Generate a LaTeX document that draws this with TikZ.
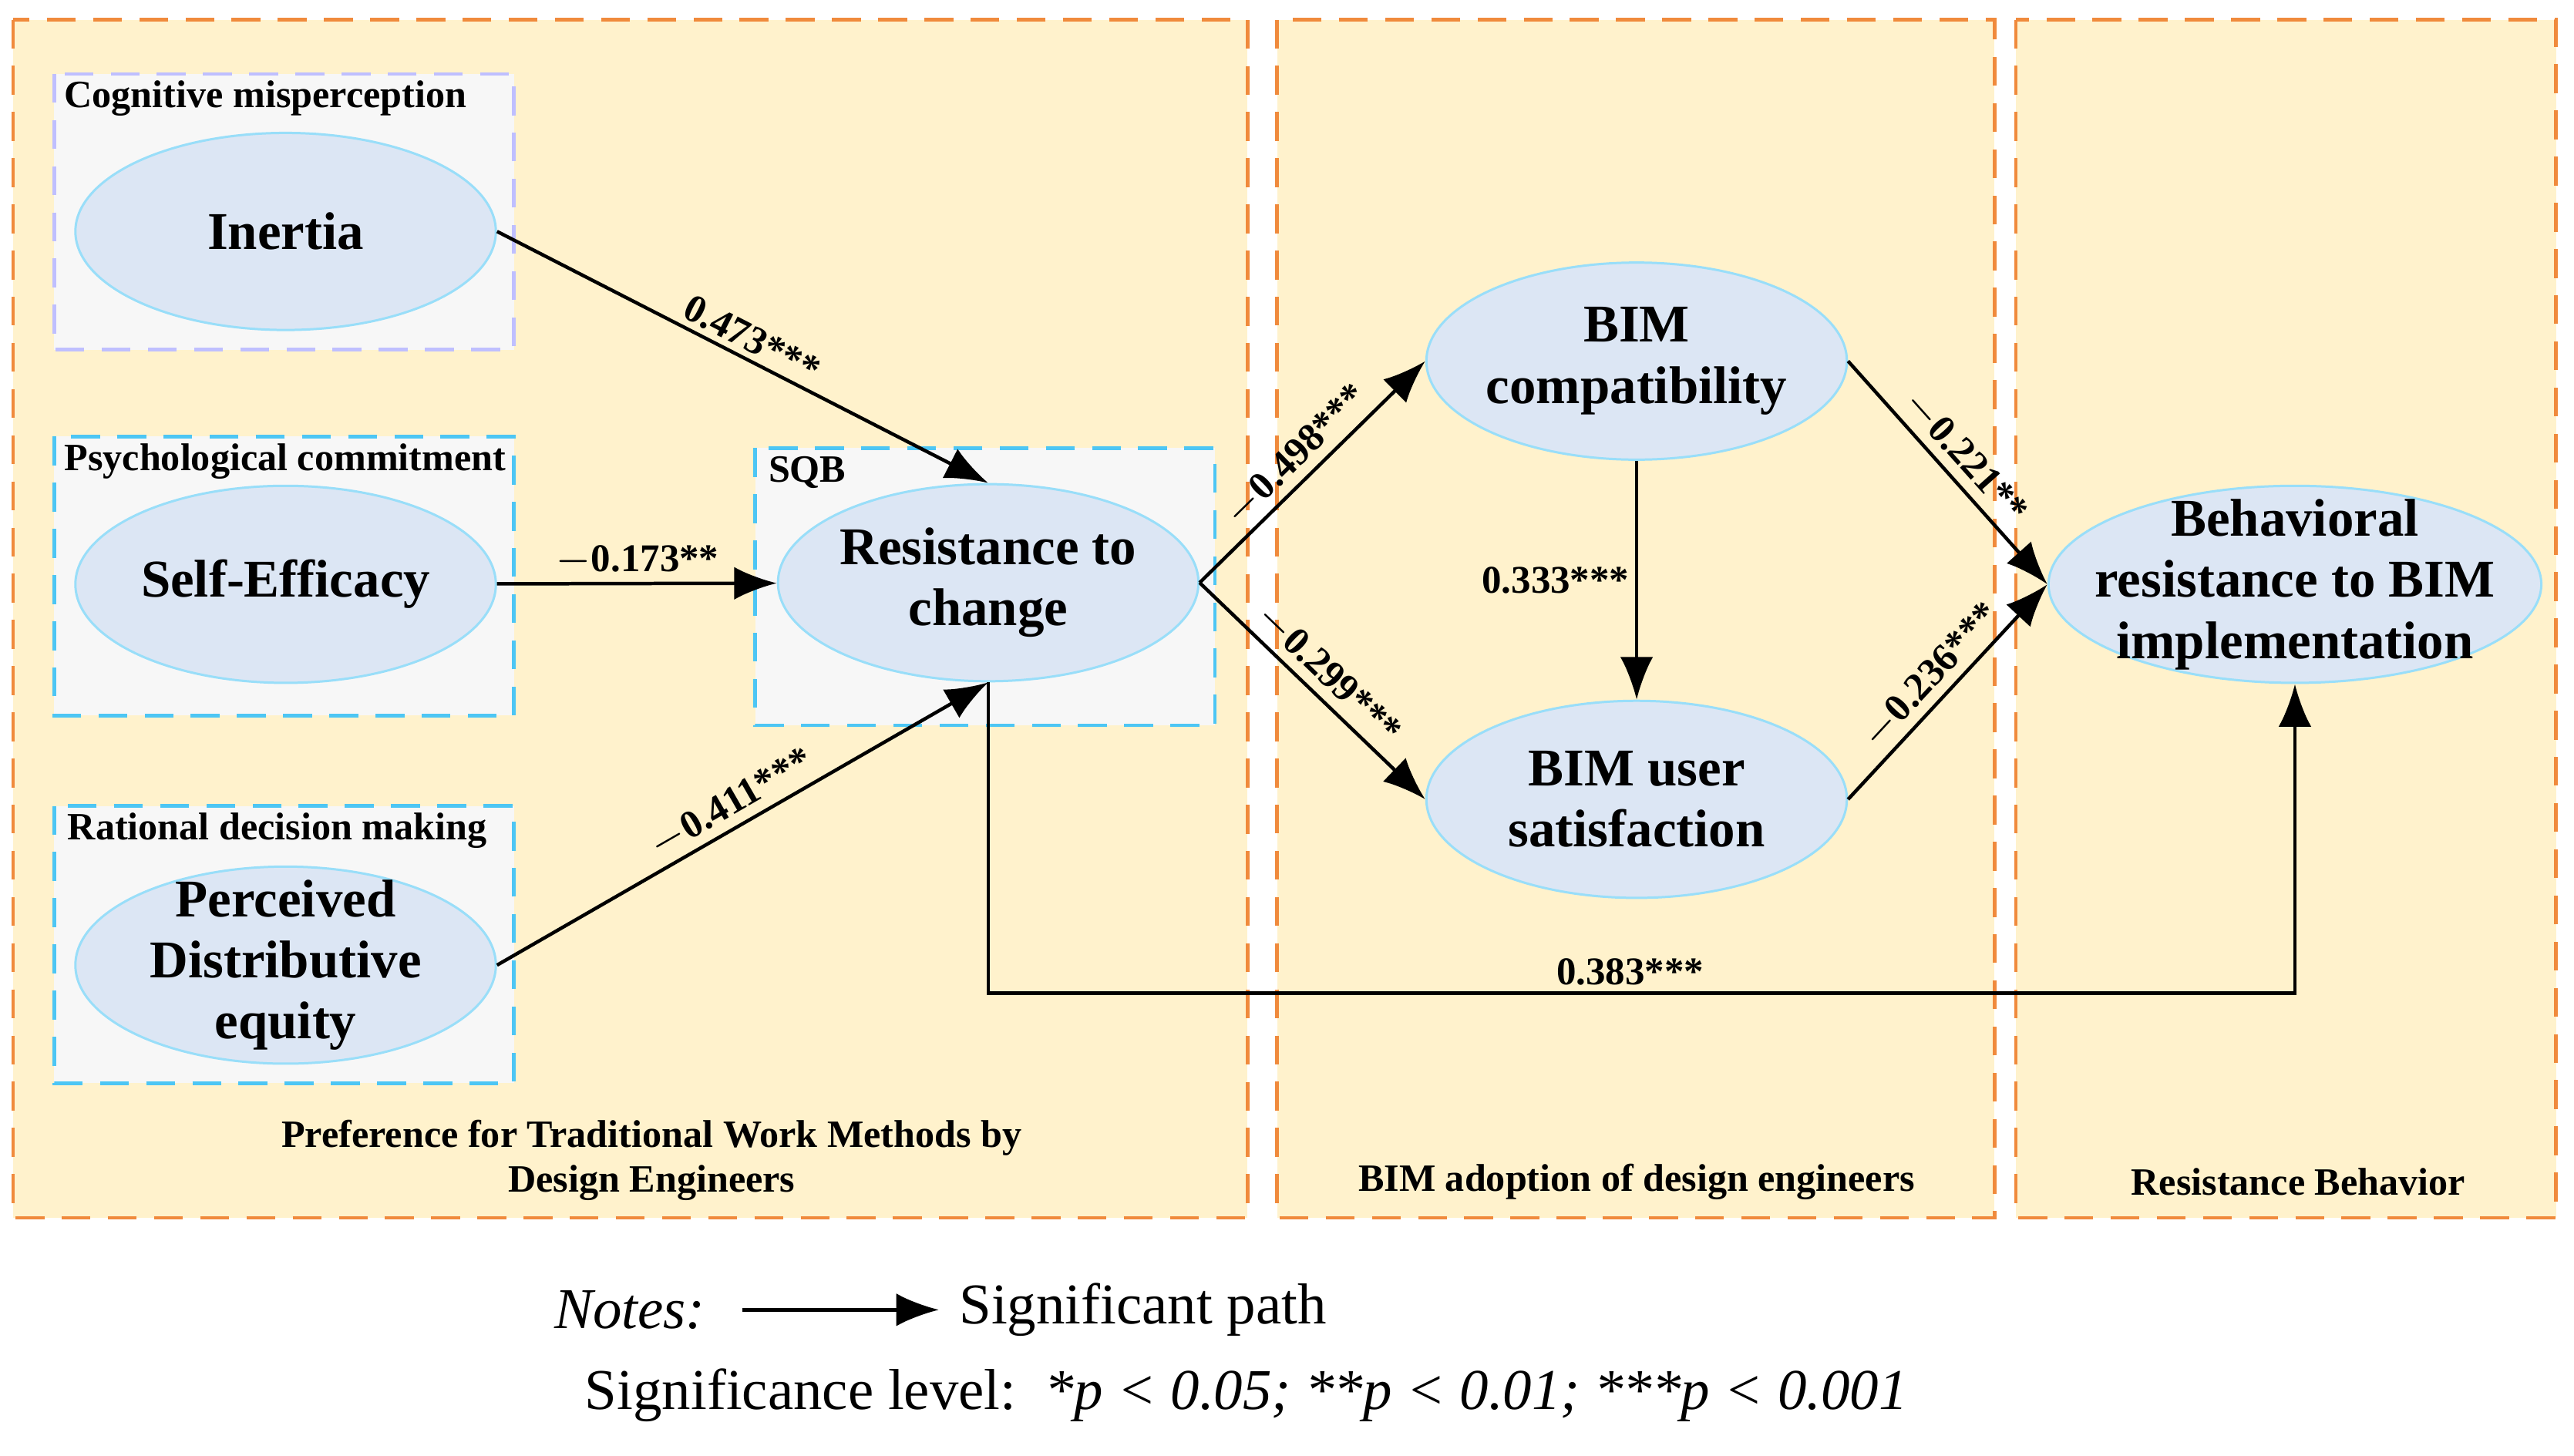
\documentclass[tikz,border=0pt]{standalone}
\usepackage{fontspec}
\setmainfont{Liberation Serif}
\usetikzlibrary{shapes.geometric,arrows.meta,positioning}
\definecolor{panelfill}{HTML}{FFF2CC}
\definecolor{paneldraw}{HTML}{F08A3C}
\definecolor{grpfill}{HTML}{F7F7F7}
\definecolor{ellfill}{HTML}{DCE6F4}
\begin{document}
\begin{tikzpicture}[x=0.01cm,y=-0.01cm,
  panel/.style={draw=paneldraw,fill=panelfill,dashed,dash pattern=on 5pt off 3pt,line width=0.6pt},
  grp/.style={draw=cyan!70,fill=grpfill,dashed,dash pattern=on 5pt off 3pt,line width=0.6pt},
  latent/.style={draw=cyan!40,fill=ellfill,ellipse,minimum width=2.56cm,minimum height=1.2cm,inner sep=0pt,
    label={[align=center,font=\fontsize{9.2}{10.6}\selectfont\bfseries]center:#1}},
  tag/.style={font=\fontsize{6.7}{7.8}\selectfont\bfseries,inner sep=1pt},
  lbl/.style={font=\fontsize{6.8}{8}\selectfont\bfseries,inner sep=1pt},
  arr/.style={draw,line width=0.6pt,-{Latex[length=2.6mm,width=2mm]}}]
  \useasboundingbox (0,0) rectangle (1568,887);
  % panels
  \draw[panel] (8,12) rectangle (760,742);
  \draw[panel] (778,12) rectangle (1215,742);
  \draw[panel] (1228,12) rectangle (1557,742);
  \draw[grp,draw=blue!25] (33,45) rectangle (313,213);
  \draw[grp] (33,266) rectangle (313,436);
  \draw[grp] (33,491) rectangle (313,660);
  \draw[grp] (460,273) rectangle (740,442);
  \node[tag,anchor=north west] at (35,45) {Cognitive misperception};
  \node[tag,anchor=north west] at (35,266) {Psychological commitment};
  \node[tag,anchor=north west] at (37,491) {Rational decision making};
  \node[tag,anchor=north west] at (464,274) {SQB};
  \node[tag,align=center] at (397,707) {Preference for Traditional Work Methods by\\Design Engineers};
  \node[tag] at (997,720) {BIM adoption of design engineers};
  \node[tag] at (1400,720) {Resistance Behavior};

  % latent variables
  \node[latent=Inertia] (inertia) at (174,141) {};
  \node[latent=Self-Efficacy] (selfeff) at (174,356) {};
  \node[latent={Perceived\\Distributive\\equity}] (equity) at (174,588) {};
  \node[latent={Resistance to\\change}] (resist) at (602,355) {};
  \node[latent={BIM\\compatibility}] (compat) at (997,220) {};
  \node[latent={BIM user\\satisfaction}] (satisf) at (997,487) {};
  \node[latent={Behavioral\\resistance to BIM\\implementation},minimum width=3cm] (behav) at (1398,356) {};

  % paths
  \draw[arr] (inertia.east) -- node[lbl,sloped,above] {0.473***} (resist.north);
  \draw[arr] (selfeff) -- node[lbl,above] {$-$0.173**} (resist);
  \draw[arr] (equity.east) -- node[lbl,sloped,above] {$-$0.411***} (resist.south);
  \draw[arr] (resist.east) -- node[lbl,sloped,above] {$-$0.498***} (compat.west);
  \draw[arr] (resist.east) -- node[lbl,sloped,above] {$-$0.299***} (satisf.west);
  \draw[arr] (compat) -- node[lbl,left] {0.333***} (satisf);
  \draw[arr] (compat.east) -- node[lbl,sloped,above] {$-$0.221**} (behav.west);
  \draw[arr] (satisf.east) -- node[lbl,sloped,above] {$-$0.236***} (behav.west);
  \draw[arr] (resist.south) |- (993,605) node[lbl,above] {0.383***} -| (behav.south);

  % notes
  \node[font=\fontsize{10}{12}\selectfont\itshape,anchor=east] (notes) at (442,798) {Notes:};
  \coordinate (sigstart) at (452,798);
  \coordinate (sigend) at (572,798);
  \draw[arr] (sigstart) -- (sigend);
  \node[font=\fontsize{10}{12}\selectfont,anchor=west] at (sigend) {Significant path};
  \node[font=\fontsize{10}{12}\selectfont,anchor=west] at (344,850) {Significance level:\ \ \textit{*p < 0.05; **p < 0.01; ***p < 0.001}};
\end{tikzpicture}
\end{document}
